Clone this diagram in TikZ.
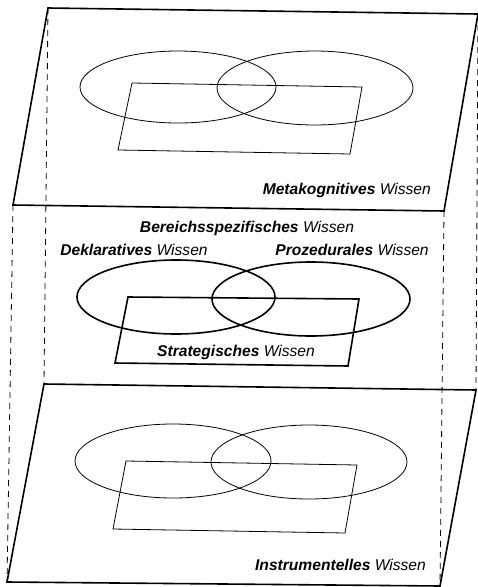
\documentclass[tikz,border=0pt]{standalone}
\usepackage{fontspec}
\setmainfont{Liberation Sans}
\begin{document}
\begin{tikzpicture}[x=1pt,y=-1pt,
  plane/.style={line width=1.6pt, line join=miter},
  thinshape/.style={line width=0.8pt},
  thickshape/.style={line width=1.6pt},
  hidden/.style={line width=0.8pt, dash pattern=on 6pt off 5pt},
  lbl/.style={inner sep=0pt, font=\fontsize{15.6}{18}\selectfont}]
\useasboundingbox (0,0) rectangle (478,587);
% corners of top plane
\coordinate (tTL) at (48,8);
\coordinate (tTR) at (478,14);
\coordinate (tBR) at (444,211);
\coordinate (tBL) at (13,205);
% corners of bottom plane
\coordinate (bTL) at (44,384);
\coordinate (bTR) at (476,390);
\coordinate (bBR) at (440,586);
\coordinate (bBL) at (7,582);
% hidden vertical edges
\draw[hidden] (tTL) -- (bTL);
\draw[hidden] (tBL) -- (bBL);
\draw[hidden] (tBR) -- (bBR);
\draw[hidden] (tTR) -- (bTR);
% planes
\draw[plane] (tTL) -- (tTR) -- (tBR) -- (tBL) -- cycle;
\draw[plane] (bTL) -- (bTR) -- (bBR) -- (bBL) -- cycle;
% top layer
\draw[thinshape] (178,87) ellipse [x radius=98pt, y radius=36pt];
\draw[thinshape] (315,88) ellipse [x radius=98pt, y radius=37pt];
\draw[thinshape] (132,83) -- (362,87) -- (350,154) -- (118,150) -- cycle;
\node[lbl, anchor=east] (meta) at (431,190) {\textbf{\textit{Metakognitives}} \textit{Wissen}};
% middle layer
\draw[thickshape] (176,297) ellipse [x radius=99pt, y radius=37pt];
\draw[thickshape] (311,299) ellipse [x radius=99pt, y radius=37pt];
\draw[thickshape] (128,297) -- (359,299) -- (348,366) -- (115,363) -- cycle;
\node[lbl] (bereich) at (247,228) {\textbf{\textit{Bereichsspezifisches}} \textit{Wissen}};
\node[lbl] (dekl) at (134,250) {\textbf{\textit{Deklaratives}} \textit{Wissen}};
\node[lbl] (proz) at (352,250) {\textbf{\textit{Prozedurales}} \textit{Wissen}};
\node[lbl] (strat) at (236,352) {\textbf{\textit{Strategisches}} \textit{Wissen}};
% bottom layer
\draw[thinshape] (173,461) ellipse [x radius=98pt, y radius=37pt];
\draw[thinshape] (309,462) ellipse [x radius=98pt, y radius=37pt];
\draw[thinshape] (126,461) -- (357,465) -- (345,533) -- (113,529) -- cycle;
\node[lbl, anchor=east] (instr) at (426,565) {\textbf{\textit{Instrumentelles}} \textit{Wissen}};
\end{tikzpicture}
\end{document}
